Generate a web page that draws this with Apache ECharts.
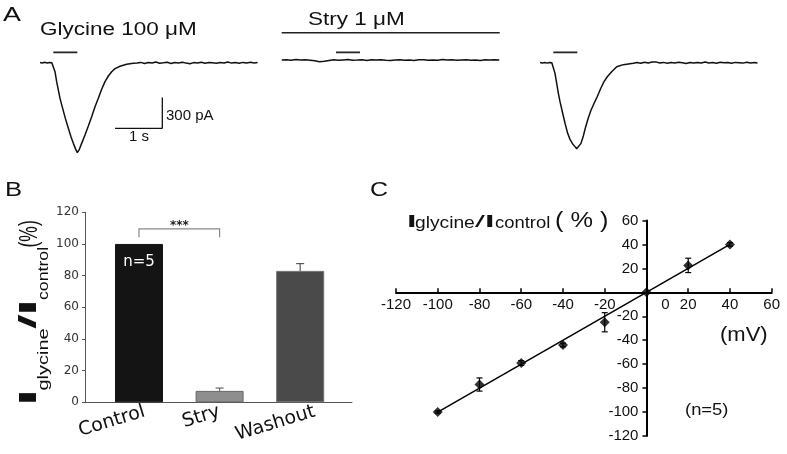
<!DOCTYPE html>
<html><head><meta charset="utf-8">
<script src="https://cdn.jsdelivr.net/npm/echarts@6/dist/echarts.min.js"></script>
<style>html,body{margin:0;padding:0;background:#fff}#c{width:787px;height:454px}</style>
</head><body><div id="c"></div>
<script>
// ================= DATA =================
// Panel A: whole-cell current traces (time in s, current in pA)
const traceControlTime = [0,0.05,0.1,0.15,0.2,0.25,0.282,0.317,0.352,0.388,0.423,0.479,0.536,0.599,0.655,0.705,0.747,0.789,0.832,0.881,0.951,1.022,1.092,1.163,1.233,1.304,1.374,1.445,1.515,1.586,1.691,1.832,1.973,2.05,2.13,2.21,2.29,2.37,2.45,2.53,2.61,2.69,2.77,2.85,2.93,3.01,3.09,3.17,3.25,3.33,3.41,3.49,3.57,3.65,3.73,3.81,3.89,3.97,4.05,4.13,4.21,4.29,4.37,4.45,4.53,4.6];
const traceControlCurrent = [2,-3,4,-2,3,-1,-6,-88,-185,-267,-348,-446,-544,-641,-723,-788,-837,-879,-846,-788,-706,-618,-527,-430,-348,-260,-185,-130,-88,-58,-35,-16,-6,-4,3,-8,2,-3,6,-5,-1,4,-7,2,-2,5,-4,-10,1,-3,4,-6,2,-1,-5,3,-2,6,-4,1,-6,3,-2,4,-3,1];
const traceStryTime = [0,0.1,0.2,0.3,0.4,0.5,0.6,0.7,0.8,0.9,1.0,1.1,1.2,1.3,1.4,1.5,1.6,1.7,1.8,1.9,2.0,2.1,2.2,2.3,2.4,2.5,2.6,2.7,2.8,2.9,3.0,3.1,3.2,3.3,3.4,3.5,3.6,3.7,3.8,3.9,4.0,4.1,4.2,4.3,4.4,4.5,4.6];
const traceStryCurrent = [0,3,-2,4,-1,2,-3,-8,-18,-12,-4,2,-3,1,4,-2,0,3,-4,2,-1,3,-2,-5,1,3,-2,0,-4,2,3,-3,1,-2,4,-1,2,-3,0,3,-2,1,-4,2,0,3,-1];
const traceWashTime = [0,0.05,0.1,0.15,0.2,0.25,0.282,0.317,0.353,0.388,0.423,0.472,0.529,0.585,0.634,0.691,0.74,0.775,0.817,0.867,0.916,0.966,1.021,1.078,1.142,1.212,1.283,1.353,1.423,1.515,1.621,1.762,1.973,2.05,2.13,2.21,2.29,2.37,2.45,2.53,2.61,2.69,2.77,2.85,2.93,3.01,3.09,3.17,3.25,3.33,3.41,3.49,3.57,3.65,3.73,3.81,3.89,3.97,4.05,4.13,4.21,4.29,4.37,4.45,4.53,4.6];
const traceWashCurrent = [3,-2,1,-4,2,-1,-6,-104,-201,-299,-381,-479,-592,-690,-749,-794,-820,-840,-827,-788,-716,-625,-540,-465,-398,-330,-252,-185,-137,-88,-39,-19,-6,2,-5,4,-3,6,8,-2,3,-6,1,-3,5,-1,-8,2,-4,3,-2,6,-3,1,-5,4,-1,2,-6,3,0,-4,5,-2,1,-3];
const glycineApplication = [0.282, 0.789];   // s
const stryBarApplication = [1.148, 1.655];   // s
const stryPerfusion = [0, 4.61];             // s
const scaleBarTime = 1;      // s
const scaleBarCurrent = 300; // pA
const textGlycine = 'Glycine 100 μM';
const textStry = 'Stry 1 μM';

// Panel B: normalized peak current
const barCategories = ['Control', 'Stry', 'Washout'];
const barMeans = [100, 7.2, 83];
const barSems = [0, 1.8, 4.6];
const barNLabel = 'n=5';
const barSignif = '***';

// Panel C: I-V relationship
const ivVoltage = [-100, -80, -60, -40, -20, 0, 20, 40];
const ivCurrent = [-100, -77, -59, -44, -25, 0, 22.5, 40];
const ivSem = [1, 5.5, 2, 1.5, 8, 0, 6, 1.5];
const ivFitVoltage = [-100, 40];
const ivFitCurrent = [-100, 40];

// ================= LAYOUT / STYLE =================
const L = {
  aPxPerS: 47.3, aPaPerPx: 9.77, aSpan: 4.61, aMin: -950, aMax: 300,
  aLeft: [40, 281.7, 540], aBaseY: [62.7, 60, 62.7],
  appLevel: 100, stryBarLevel: 75, stryLineLevel: 267,
  scaleAnchor: [2.586, -641],
  bGrid: {left: 85, top: 212.3, width: 267, height: 190},
  bXMin: 0.33, bXMax: 3.643, bLabelShift: [0.07, 0.0, 0.18],
  bracketLow: 104.2, bracketHigh: 109.5,
  cGrid: {left: 396, top: 220.5, width: 375.7, height: 215.5}
};
const cMin = -120, cMax = 60;
// place the crossing axes of panel C at zero
const cZeroX = L.cGrid.left + (0 - cMin) / (cMax - cMin) * L.cGrid.width;
const cZeroY = L.cGrid.top + (cMax - 0) / (cMax - cMin) * L.cGrid.height;
const cYOffset = -(cZeroX - L.cGrid.left);
const cXOffset = -(L.cGrid.top + L.cGrid.height - cZeroY);

const barColors = ['#141414', '#8e8e8e', '#4a4a4a'];
const barBorders = ['#141414', '#666666', '#707070'];
const errColors = ['#111', '#666', '#555'];

const zip = (a, b) => a.map((v, i) => [v, b[i]]);
const AF = '"Liberation Sans", Arial, sans-serif';
const DF = '"DejaVu Sans", sans-serif';

const grids = [0, 1, 2].map(i => ({
  left: L.aLeft[i], top: L.aBaseY[i] - L.aMax / L.aPaPerPx,
  width: L.aSpan * L.aPxPerS, height: (L.aMax - L.aMin) / L.aPaPerPx,
  outerBoundsMode: 'none'
}));
grids.push(Object.assign({outerBoundsMode: 'none'}, L.bGrid));
grids.push(Object.assign({outerBoundsMode: 'none'}, L.cGrid));

const xAxes = [0, 1, 2].map(i => ({gridIndex: i, type: 'value', min: 0, max: L.aSpan, show: false}));
const yAxes = [0, 1, 2].map(i => ({gridIndex: i, type: 'value', min: L.aMin, max: L.aMax, show: false}));

xAxes.push({
  gridIndex: 3, type: 'value', min: L.bXMin, max: L.bXMax,
  axisLine: {show: true, onZero: false, lineStyle: {color: '#555', width: 1}},
  axisTick: {show: false}, splitLine: {show: false},
  axisLabel: {
    customValues: barCategories.map((c, i) => i + 1 + L.bLabelShift[i]),
    formatter: v => barCategories[Math.round(v) - 1] || '',
    rotate: 17, margin: 9, fontFamily: DF, fontSize: 19, color: '#111'
  }
});
yAxes.push({
  gridIndex: 3, type: 'value', min: 0, max: 120, interval: 20,
  axisLine: {show: true, lineStyle: {color: '#555', width: 1}},
  axisTick: {show: true, length: 3, lineStyle: {color: '#555'}},
  splitLine: {show: false},
  axisLabel: {margin: 6, fontFamily: DF, fontSize: 12, color: '#333'}
});

xAxes.push({
  gridIndex: 4, type: 'value', min: cMin, max: cMax, interval: 20,
  position: 'bottom', offset: cXOffset,
  axisLine: {show: true, onZero: false, lineStyle: {color: '#000', width: 2}},
  axisTick: {show: true, inside: true, length: 4, lineStyle: {color: '#000', width: 1.5}},
  splitLine: {show: false},
  axisLabel: {
    margin: 5, fontFamily: AF, fontSize: 15, color: '#111',
    formatter: v => v === 0 ? '{z|0}' : String(v),
    rich: {z: {fontFamily: AF, fontSize: 15, color: '#111', padding: [0, 0, 0, 38]}}
  }
});
yAxes.push({
  gridIndex: 4, type: 'value', min: cMin, max: cMax, interval: 20,
  position: 'left', offset: cYOffset,
  axisLine: {show: true, onZero: false, lineStyle: {color: '#000', width: 2}},
  axisTick: {show: true, length: 4, lineStyle: {color: '#000', width: 1.5}},
  splitLine: {show: false},
  axisLabel: {margin: 8, fontFamily: AF, fontSize: 15, color: '#111',
    formatter: v => v === 0 ? '' : String(v)}
});

const lineBase = {type: 'line', showSymbol: false, symbol: 'none', animation: false, silent: true};
const series = [];
const traces = [[traceControlTime, traceControlCurrent], [traceStryTime, traceStryCurrent], [traceWashTime, traceWashCurrent]];
traces.forEach((tr, i) => series.push(Object.assign({}, lineBase, {
  xAxisIndex: i, yAxisIndex: i, data: zip(tr[0], tr[1]),
  lineStyle: {color: '#111', width: 1.5}
})));
// drug application bars
series.push(Object.assign({}, lineBase, {xAxisIndex: 0, yAxisIndex: 0,
  data: glycineApplication.map(t => [t, L.appLevel]), lineStyle: {color: '#222', width: 1.8}}));
series.push(Object.assign({}, lineBase, {xAxisIndex: 2, yAxisIndex: 2,
  data: glycineApplication.map(t => [t, L.appLevel]), lineStyle: {color: '#222', width: 1.8}}));
series.push(Object.assign({}, lineBase, {xAxisIndex: 1, yAxisIndex: 1,
  data: stryBarApplication.map(t => [t, L.stryBarLevel]), lineStyle: {color: '#222', width: 1.8}}));
series.push(Object.assign({}, lineBase, {xAxisIndex: 1, yAxisIndex: 1,
  data: stryPerfusion.map(t => [t, L.stryLineLevel]), lineStyle: {color: '#222', width: 1.5}}));
// scale bar
const sa = L.scaleAnchor;
series.push(Object.assign({}, lineBase, {xAxisIndex: 0, yAxisIndex: 0,
  data: [[sa[0] - scaleBarTime, sa[1]], [sa[0], sa[1]], [sa[0], sa[1] + scaleBarCurrent]],
  lineStyle: {color: '#111', width: 1.3}}));

// Panel B bars
series.push({
  type: 'bar', xAxisIndex: 3, yAxisIndex: 3, barWidth: 48, animation: false,
  data: barMeans.map((m, i) => ({
    value: [i + 1, m],
    itemStyle: {color: barColors[i], borderColor: barBorders[i], borderWidth: 1},
    label: i === 0 ? {show: true, position: 'insideTop', distance: 11, formatter: barNLabel,
      color: '#fff', fontFamily: DF, fontSize: 15} : {show: false}
  }))
});
series.push({
  type: 'custom', xAxisIndex: 3, yAxisIndex: 3, animation: false, silent: true,
  data: barMeans.map((m, i) => [i + 1, m, barSems[i]]),
  renderItem: (params, api) => {
    const x = api.value(0), m = api.value(1), e = api.value(2);
    if (!e) return null;
    const p0 = api.coord([x, m]), p1 = api.coord([x, m + e]);
    const c = errColors[params.dataIndex];
    return {type: 'group', children: [
      {type: 'line', shape: {x1: p0[0], y1: p0[1], x2: p1[0], y2: p1[1]}, style: {stroke: c, lineWidth: 1.2}},
      {type: 'line', shape: {x1: p1[0] - 4, y1: p1[1], x2: p1[0] + 4, y2: p1[1]}, style: {stroke: c, lineWidth: 1.2}}
    ]};
  }
});
series.push({
  type: 'custom', xAxisIndex: 3, yAxisIndex: 3, animation: false, silent: true,
  data: [[1, 2]],
  renderItem: (params, api) => {
    const a = api.value(0), b = api.value(1);
    const p1 = api.coord([a, L.bracketLow]), p2 = api.coord([a, L.bracketHigh]);
    const p3 = api.coord([b, L.bracketHigh]), p4 = api.coord([b, L.bracketLow]);
    return {type: 'group', children: [
      {type: 'polyline', shape: {points: [p1, p2, p3, p4]}, style: {stroke: '#888', lineWidth: 1.2, fill: null}},
      {type: 'text', x: (p2[0] + p3[0]) / 2, y: p2[1] - 3,
        style: {text: barSignif, font: 'bold 12px "DejaVu Sans"', fill: '#222',
          align: 'center', verticalAlign: 'middle', textAlign: 'center', textVerticalAlign: 'middle'}}
    ]};
  }
});

// Panel C
series.push(Object.assign({}, lineBase, {xAxisIndex: 4, yAxisIndex: 4,
  data: zip(ivFitVoltage, ivFitCurrent), lineStyle: {color: '#000', width: 1.5}, z: 2}));
series.push({
  type: 'custom', xAxisIndex: 4, yAxisIndex: 4, animation: false, silent: true, z: 3,
  data: ivVoltage.map((v, i) => [v, ivCurrent[i], ivSem[i]]),
  renderItem: (params, api) => {
    const x = api.value(0), m = api.value(1), e = api.value(2);
    if (!e) return null;
    const p0 = api.coord([x, m - e]), p1 = api.coord([x, m + e]);
    const s = {stroke: '#000', lineWidth: 1.2};
    return {type: 'group', children: [
      {type: 'line', shape: {x1: p0[0], y1: p0[1], x2: p1[0], y2: p1[1]}, style: s},
      {type: 'line', shape: {x1: p0[0] - 3, y1: p0[1], x2: p0[0] + 3, y2: p0[1]}, style: s},
      {type: 'line', shape: {x1: p1[0] - 3, y1: p1[1], x2: p1[0] + 3, y2: p1[1]}, style: s}
    ]};
  }
});
series.push({
  type: 'scatter', xAxisIndex: 4, yAxisIndex: 4, animation: false, z: 4,
  symbol: 'diamond', symbolSize: 10, itemStyle: {color: '#000'},
  data: zip(ivVoltage, ivCurrent)
});

// ================= TEXT =================
function txt(text, x, y, font, opts) {
  opts = opts || {};
  const al = opts.align || 'left';
  return Object.assign({
    type: 'text', x: x, y: y, silent: true, z: 10,
    style: {text: text, font: font, fill: opts.fill || '#111',
      align: al, textAlign: al, verticalAlign: 'middle', textVerticalAlign: 'middle'}
  }, opts.scaleX ? {scaleX: opts.scaleX} : {}, opts.rot ? {rotation: opts.rot} : {});
}
const R = Math.PI / 2;
const graphics = [
  txt('A', 3, 15.5, '21px ' + AF, {scaleX: 1.28}),
  txt('B', 5, 190.3, '20px ' + AF, {scaleX: 1.28}),
  txt('C', 370, 190.5, '20px ' + AF, {scaleX: 1.25}),
  txt(textGlycine, 40, 30.3, '18px ' + AF, {scaleX: 1.25}),
  txt(textStry, 308, 20, '18px ' + AF, {scaleX: 1.25}),
  txt(scaleBarCurrent + ' pA', 166, 115.5, '15px ' + AF),
  txt(scaleBarTime + ' s', 139, 137.2, '15px ' + AF, {align: 'center'}),
  // Panel B y title (rotated, reads bottom to top)
  txt('I', 29.5, 405.8, 'bold 23px ' + AF, {rot: R, scaleX: 2.6}),
  txt('glycine', 43.8, 390.5, '15px ' + AF, {rot: R, scaleX: 1.33}),
  txt('/', 29.5, 329, 'bold 23px ' + AF, {rot: R, scaleX: 2.3}),
  txt('I', 29.5, 315.8, 'bold 23px ' + AF, {rot: R, scaleX: 2.6}),
  txt('control', 43.8, 300, '15px ' + AF, {rot: R, scaleX: 1.18}),
  txt('(%)', 29.8, 247.5, '25px ' + AF, {rot: R, scaleX: 0.7}),
  // Panel C title
  txt('I', 407, 222.1, 'bold 17px ' + AF, {scaleX: 2}),
  txt('glycine', 415, 223.8, '16px ' + AF, {scaleX: 1.2}),
  txt('/', 475, 222.1, '17px ' + AF, {scaleX: 2.1}),
  txt('I', 485, 222.1, 'bold 17px ' + AF, {scaleX: 2}),
  txt('control', 495, 223.8, '16px ' + AF, {scaleX: 1.15}),
  txt('( % )', 555, 220.6, '22px ' + AF, {scaleX: 1.15}),
  txt('(mV)', 720, 335, '20px ' + AF, {scaleX: 1.1}),
  txt('(n=5)', 685, 410.5, '16px ' + AF, {scaleX: 1.15})
];

const chart = echarts.init(document.getElementById('c'), null, {width: 787, height: 454});
chart.setOption({
  animation: false,
  backgroundColor: '#fff',
  grid: grids, xAxis: xAxes, yAxis: yAxes, series: series,
  graphic: {elements: graphics}
});
</script></body></html>
